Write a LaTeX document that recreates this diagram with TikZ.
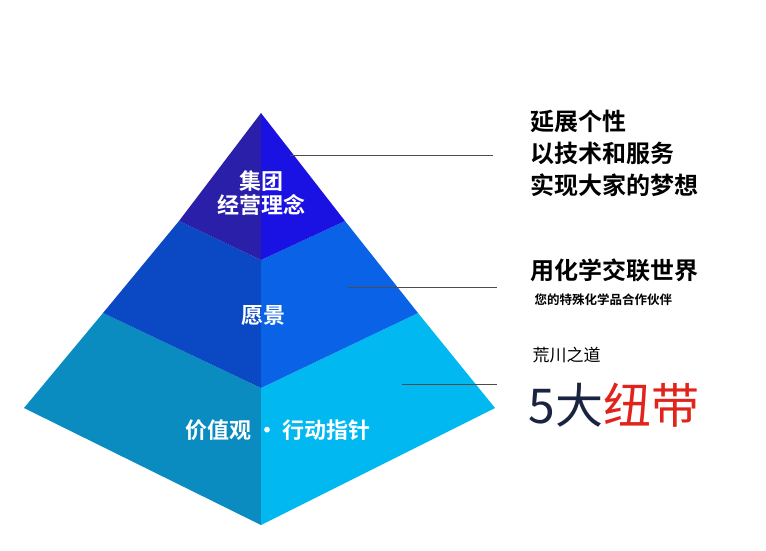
\documentclass[tikz,border=0pt]{standalone}
\usepackage{fontspec}
\setmainfont{Noto Sans CJK SC}[BoldFont={* Bold}]
\definecolor{tl}{HTML}{2A1FA8}\definecolor{tr}{HTML}{1A12E2}
\definecolor{ml}{HTML}{0A48C4}\definecolor{mr}{HTML}{0A62E6}
\definecolor{bl}{HTML}{0A8CC0}\definecolor{br}{HTML}{02B8F0}
\definecolor{navy}{HTML}{1A2340}\definecolor{redd}{HTML}{E0241C}
\begin{document}
\begin{tikzpicture}[x=1pt,y=-1pt,
 lbl/.style={text=white,font=\bfseries\fontsize{22}{28}\selectfont,align=center},
 rt/.style={anchor=west,font=\bfseries\fontsize{24}{34}\selectfont,align=left,text=black},
 lead/.style={draw=black!70,line width=0.6pt}]
\useasboundingbox (0,0) rectangle (766,550);
\coordinate (A) at (261,113);
\fill[bl] (24,408) -- (103,313) -- (261,388) -- (261,525) -- cycle;
\fill[br] (495,408) -- (418,313) -- (261,388) -- (261,525) -- cycle;
\fill[ml] (103,313) -- (179,221) -- (261,260) -- (261,388) -- cycle;
\fill[mr] (418,313) -- (345,221) -- (261,260) -- (261,388) -- cycle;
\fill[tl] (A) -- (179,221) -- (261,260) -- cycle;
\fill[tr] (A) -- (345,221) -- (261,260) -- cycle;
\node[lbl] (t1) at (261,193) {集团\\[-4pt]经营理念};
\node[lbl] (t2) at (263,316) {愿景};
\node[lbl] (t3) at (278,430) {价值观 · 行动指针};
\node[rt] (r1) at (527,153) {延展个性\\[-2pt]以技术和服务\\[-2pt]实现大家的梦想};
\node[rt] (r2) at (527,270) {用化学交联世界};
\node[anchor=west,font=\bfseries\fontsize{12.5}{15}\selectfont] (r3) at (531,300) {您的特殊化学品合作伙伴};
\node[anchor=west,font=\fontsize{17}{20}\selectfont] (r4) at (529,355) {荒川之道};
\node[anchor=west,font=\fontsize{48}{52}\selectfont] (r5) at (525,405) {\textcolor{navy}{5大}\textcolor{redd}{纽带}};
\coordinate (p1) at (290,155);\coordinate (q1) at (493,155);
\coordinate (p2) at (348,287);\coordinate (q2) at (497,287);
\coordinate (p3) at (402,384);\coordinate (q3) at (497,384);
\draw[lead] (p1)--(q1); \draw[lead] (p2)--(q2); \draw[lead] (p3)--(q3);
\end{tikzpicture}
\end{document}
